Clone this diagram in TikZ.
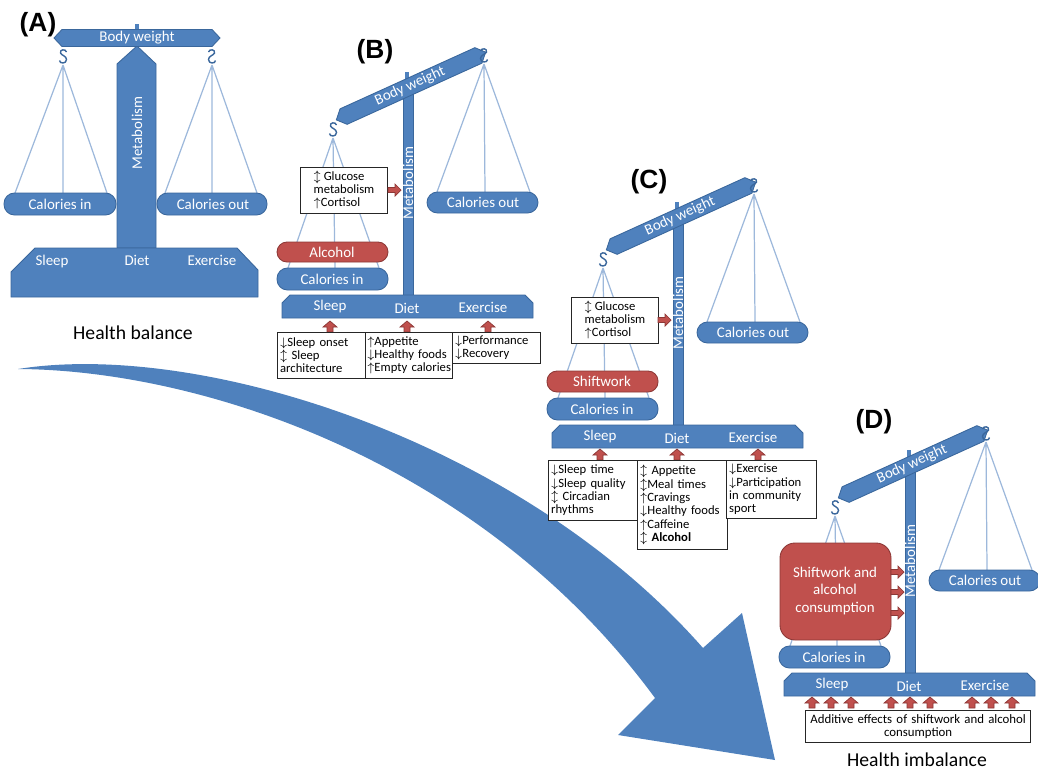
\documentclass[tikz,border=0pt]{standalone}
\usepackage{fontspec}
\setmainfont{Carlito}
\newfontfamily\panelfont{Liberation Sans}
\usepackage{tikz}
\usetikzlibrary{calc}
\hyphenpenalty=10000
\exhyphenpenalty=10000

\definecolor{barblue}{HTML}{4F81BD}
\definecolor{barline}{HTML}{3A679C}
\definecolor{cordblue}{HTML}{9DB8DB}
\definecolor{alcred}{HTML}{C0504D}
\definecolor{alcline}{HTML}{8C3836}

\newcommand{\arup}{$\uparrow$}
\newcommand{\ardn}{$\downarrow$}
\newcommand{\arud}{$\updownarrow$}

\tikzset{
	bluepart/.style={fill=barblue, draw=barline, line width=0.5pt},
	calpan/.style={bluepart, rounded corners=0.21cm},
	redpan/.style={fill=alcred, draw=alcline, line width=0.5pt, rounded corners=0.2cm},
	cord/.style={draw=cordblue, line width=0.7pt},
	hookline/.style={draw=barline, line width=0.8pt},
	lbl/.style={text=white, inner sep=0pt, font=\fontsize{8.5}{10}\selectfont},
	infobox/.style={draw=black!85, line width=0.6pt, fill=white, align=left, anchor=north west, inner sep=2pt, inner xsep=1.5pt, font=\fontsize{7.2}{7.4}\selectfont},
	panelname/.style={font=\panelfont\bfseries\fontsize{15}{17}\selectfont},
	verdict/.style={font=\fontsize{11.2}{13}\selectfont},
	uparr/.pic={\filldraw[fill=alcred, draw=alcline, line width=0.4pt] (-3,0) -- (-3,-5) -- (-7,-5) -- (0,-11) -- (7,-5) -- (3,-5) -- (3,0) -- cycle;},
	rtarr/.pic={\filldraw[fill=alcred, draw=alcline, line width=0.4pt] (0,-2.5) -- (7,-2.5) -- (7,-6) -- (13,0) -- (7,6) -- (7,2.5) -- (0,2.5) -- cycle;},
	hook/.pic={\draw[hookline] (3.5,-13) .. controls (2.5,-16.5) and (-3.5,-15.5) .. (-2.5,-12) .. controls (-1.5,-9.5) and (3.5,-9) .. (3.5,-5.5) .. controls (3.5,-1) and (-3.5,-1) .. (-3.5,-4.5);}
}

\begin{document}
\begin{tikzpicture}[x=0.02cm, y=-0.02cm]
	\useasboundingbox (0,0) rectangle (1038,771);
	
	% big arrow from balance to imbalance
	\fill[barblue] (18,369) .. controls (200,340) and (520,440) .. (703,648) -- (742,613) -- (775,760) -- (618,735) -- (655,698) .. controls (480,460) and (200,370) .. cycle;
	
	% (A) balanced scale
	\node[panelname] (nameA) at (38,25) {(A)};
	\draw[cord] (63,65) -- (15,193) (63,65) -- (63,193) (63,65) -- (107,193);
	\draw[cord] (212,65) -- (165,193) (212,65) -- (212,193) (212,65) -- (257,193);
	\fill[barblue] (135,24) rectangle (139,32);
	\filldraw[bluepart] (117,248) -- (117,64) -- (137,46) -- (156,64) -- (156,248) -- cycle;
	\filldraw[bluepart] (54,38) -- (62,29.5) -- (212,29.5) -- (220,38) -- (212,46.5) -- (62,46.5) -- cycle;
	\node[lbl] (bwA) at (137,38) {Body weight};
	\node[lbl, rotate=90] (metA) at (137,133) {Metabolism};
	\path (63,65) pic{hook} (212,65) pic[xscale=-1]{hook};
	\filldraw[calpan] (4,193) rectangle (116,215);
	\node[lbl] (cinA) at (60,204) {Calories in};
	\filldraw[calpan] (157,193) rectangle (267,215);
	\node[lbl] (coutA) at (213,204) {Calories out};
	\filldraw[bluepart] (35,248) -- (237,248) -- (258,270) -- (258,297) -- (11,297) -- (11,272) -- cycle;
	\node[lbl] (sleepA) at (52,262) {Sleep};
	\node[lbl] (dietA) at (137,260) {Diet};
	\node[lbl] (exA) at (212,260) {Exercise};
	\node[verdict] (balance) at (133,333) {Health balance};
	
	% tilted scales (B), (C), (D)
	\foreach \dx/\dy/\pn in {0/0/B, 270/130/C, 502/378/D}{
		\begin{scope}[shift={(\dx,\dy)}]
			\draw[cord] (333,138) -- (288,268) (333,138) -- (335,268) (333,138) -- (379,268);
			\draw[cord] (484,64) -- (437,192) (484,64) -- (485,192) (484,64) -- (530,192);
			\filldraw[bluepart] (403,90) rectangle (413,295);
			\fill[barblue] (405,72) rectangle (409,90);
			\begin{scope}[shift={(411,86)}, rotate=24.4]
				\filldraw[bluepart] (-82,0) -- (-74,-8.5) -- (74,-8.5) -- (82,0) -- (74,8.5) -- (-74,8.5) -- cycle;
			\end{scope}
			\node[lbl, rotate=24.4] (bw\pn) at (410,86) {Body weight};
			\node[lbl, rotate=90] (met\pn) at (408,183) {Metabolism};
			\path (333,138) pic{hook} (484,64) pic[xscale=-1]{hook};
			\filldraw[calpan] (427,192) rectangle (538,213);
			\node[lbl] (cout\pn) at (483,202.5) {Calories out};
			\filldraw[calpan] (277,268) rectangle (388,290);
			\node[lbl] (cin\pn) at (332,279) {Calories in};
			\filldraw[bluepart] (290,295) -- (525,295) -- (533,303) -- (533,318) -- (282,318) -- (282,303) -- cycle;
			\node[lbl] (sleep\pn) at (330,307) {Sleep};
			\node[lbl] (diet\pn) at (407,308) {Diet};
			\node[lbl] (ex\pn) at (483,307) {Exercise};
		\end{scope}
	}
	
	% (B) alcohol
	\node[panelname] (nameB) at (375,52) {(B)};
	\filldraw[redpan] (277,242) rectangle (388,262);
	\node[lbl] (alc) at (332,252) {Alcohol};
	\node[infobox, minimum width=1.74cm, minimum height=0.92cm] (glucB) at (300,167) {\arud\ Glucose\\metabolism\\\arup Cortisol};
	\path (388,190) pic{rtarr};
	\foreach \ax in {330,407,488} \path (\ax,332) pic{uparr};
	\node[infobox, text width=1.66cm, minimum height=0.92cm] (sleepfxB) at (277,332) {\ardn Sleep onset\\\arud\ Sleep\\architecture};
	\node[infobox, text width=1.66cm, minimum height=0.92cm, inner xsep=1pt] (dietfxB) at (365,332) {\arup Appetite\\\ardn Healthy foods\\\arup Empty~calories};
	\node[infobox, text width=1.66cm, minimum height=0.62cm] (exfxB) at (452,332) {\ardn Performance\\\ardn Recovery};
	
	% (C) shiftwork
	\node[panelname] (nameC) at (649,182) {(C)};
	\filldraw[redpan] (547,371) rectangle (658,392);
	\node[lbl] (shiftC) at (602,381) {Shiftwork};
	\node[infobox, minimum width=1.74cm, minimum height=0.92cm] (glucC) at (571,297) {\arud\ Glucose\\metabolism\\\arup Cortisol};
	\path (658,320) pic{rtarr};
	\foreach \ax in {600,677,758} \path (\ax,460) pic{uparr};
	\node[infobox, text width=1.7cm, minimum height=1.2cm, font=\fontsize{7.2}{7.6}\selectfont] (sleepfxC) at (548,460) {\ardn Sleep time\\\ardn Sleep quality\\\arud\ Circadian\\rhythms};
	\node[infobox, text width=1.7cm, minimum height=1.78cm, font=\fontsize{7.2}{7.6}\selectfont] (dietfxC) at (637,460) {\arud\ Appetite\\\arud Meal times\\\arup Cravings\\\ardn Healthy foods\\\arup Caffeine\\\textbf{\arud\ Alcohol}};
	\node[infobox, text width=1.7cm, minimum height=1.16cm, font=\fontsize{7.2}{7.6}\selectfont] (exfxC) at (726,460) {\ardn Exercise\\\ardn Participation\\in community\\sport};
	
	% (D) shiftwork and alcohol
	\node[panelname] (nameD) at (874,422) {(D)};
	\filldraw[redpan, rounded corners=0.3cm] (780,543) rectangle (891,640);
	\node[lbl, align=center, font=\fontsize{8.5}{9.9}\selectfont] (combo) at (835,591) {Shiftwork and\\alcohol\\consumption};
	\foreach \ay in {572,592,613} \path (891,\ay) pic{rtarr};
	\foreach \ax in {812,831,851,891,910,930,972,991,1012} \path (\ax,708) pic{uparr};
	\node[infobox, align=center, text width=4.4cm, minimum height=0.64cm, font=\fontsize{7.3}{7.9}\selectfont] (additive) at (805,710) {Additive effects of shiftwork and alcohol\\consumption};
	\node[verdict] (imbalance) at (917,760) {Health imbalance};
\end{tikzpicture}
\end{document}
